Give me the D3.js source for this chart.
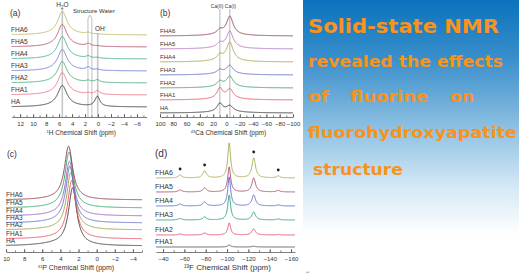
<!DOCTYPE html>
<meta charset="utf-8">
<style>
body { margin: 0; background: #fff; }
svg { display: block; font-family: "Liberation Sans", Arial, sans-serif; }
.axis path, .axis line { stroke: #444; stroke-width: 0.7; }
.axis text { font-size: 6px; fill: #333; font-family: "Liberation Sans", Arial, sans-serif; }
.lab { font-size: 6.5px; fill: #333; }
.guide { stroke: #c6c6c6; stroke-width: 1.6; fill: none; }
.title { font-family: "DejaVu Sans", Verdana, sans-serif; font-weight: bold; fill: #f7931e; }
</style>
<svg width="519" height="278"></svg>
<script src="https://cdn.jsdelivr.net/npm/d3@7"></script>
<script>

var samples = ["HA", "FHA1", "FHA2", "FHA3", "FHA4", "FHA5", "FHA6"];

// (a) 1H spectra: baseline offset and peak heights (H2O, structure water, OH-)
var hTicks = [12, 10, 8, 6, 4, 2, 0, -2, -4, -6];
var hOffset = [10, 22, 34, 46, 58, 70, 82];
var hWater = [20, 21, 20, 20, 21, 21, 22];
var hStruct = [0, 1, 1.5, 3, 2, 2.5, 1.5];
var hOH = [10, 3.5, 2.5, 1, 0.8, 0.5, 0.3];
var hColors = ["#333333", "#e8707e", "#3fa878", "#6677cc", "#3aa890", "#b04a6a", "#b8b860"];

// (b) 43Ca spectra: Ca(I) at -5 ppm, Ca(II) at 10 ppm
var caTicks = [100, 80, 60, 40, 20, 0, -20, -40, -60, -80, -100];
var caOffset = [4, 17, 29, 42, 55, 68, 81];
var caI = [5.5, 9, 10, 8, 18, 16, 18];
var caII = [8, 10, 5, 3.5, 5, 4, 4];
var caColors = ["#333333", "#e05060", "#3a9a6a", "#5a6ac0", "#a8a040", "#b070c0", "#8a3a55"];

// (c) 31P spectra: peak position and height
var pTicks = [10, 8, 6, 4, 2, 0, -2, -4];
var pOffset = [6, 13, 22, 29, 36, 44, 52];
var pPos = [2.65, 2.75, 2.85, 2.95, 3.0, 3.05, 3.1];
var pHeight = [57, 58, 57, 56, 54, 55, 53];
var pColors = ["#333333", "#e8485a", "#9a9a3a", "#5a6ac8", "#9a5ab8", "#2aa060", "#8a3545"];

// (d) 19F spectra (no HA): centre band at -102 ppm and spinning sidebands
var fSamples = ["FHA1", "FHA2", "FHA3", "FHA4", "FHA5", "FHA6"];
var fTicks = [-40, -60, -80, -100, -120, -140, -160];
var fOffset = [5, 17, 32, 46, 60, 74];
var fBands = [-56, -79, -102, -125, -148];
var fHeights = [
  [0, 0, 2, 0.8, 0],
  [1, 2, 12, 6, 0.5],
  [1.5, 3, 25, 8, 1],
  [2, 4, 29, 11, 1],
  [2, 4, 25, 14, 1.5],
  [3, 7, 35, 20, 2]
];
var fColors = ["#555555", "#e0506a", "#2aa070", "#5a6ac8", "#a84a6a", "#a8a850"];

var svg = d3.select("svg");

function lorentz(x, p) {
  var d = x - p.c;
  return p.h * p.w * p.w / (p.w * p.w + d * d);
}

function spectrum(g, x, y, offset, peaks, color) {
  var dom = x.domain(), n = 700, pts = [];
  for (var i = 0; i <= n; i++) {
    var v = dom[0] + (dom[1] - dom[0]) * i / n;
    var s = offset;
    peaks.forEach(function(p) { s += lorentz(v, p); });
    pts.push([v, s]);
  }
  g.append("path")
    .attr("d", d3.line().x(function(d) { return x(d[0]); }).y(function(d) { return y(d[1]); })(pts))
    .attr("fill", "none")
    .attr("stroke", color)
    .attr("stroke-width", 0.9);
}

function axis(g, x, axisY, ticks, minorStep, title, titleSize) {
  var dom = x.domain(), lo = Math.min(dom[0], dom[1]), hi = Math.max(dom[0], dom[1]);
  var minor = [];
  for (var v = Math.ceil(lo / minorStep) * minorStep; v <= hi; v += minorStep) minor.push(v);
  g.append("g").attr("class", "axis").attr("transform", "translate(0," + axisY + ")")
    .call(d3.axisBottom(x).tickValues(minor).tickSize(-1.6).tickFormat(""))
    .select(".domain").remove();
  g.append("g").attr("class", "axis").attr("transform", "translate(0," + axisY + ")")
    .call(d3.axisBottom(x).tickValues(ticks).tickSizeInner(-3).tickSizeOuter(0).tickPadding(5));
  var r = x.range();
  g.append("text").attr("x", (r[0] + r[1]) / 2 + 2).attr("y", axisY + 18)
    .attr("text-anchor", "middle").style("font-size", titleSize + "px").style("fill", "#333")
    .html(title);
}

// ---------- (a) ----------
var ga = svg.append("g");
var xa = d3.scaleLinear().domain([13.3, -7.5]).range([11.7, 146.7]);
var ya = d3.scaleLinear().domain([0, 110]).range([117, 7]);
ga.append("line").attr("class", "guide").attr("x1", xa(5.5)).attr("x2", xa(5.5)).attr("y1", 9).attr("y2", 117);
ga.append("path").attr("class", "guide").style("stroke-width", 1.1)
  .attr("d", "M" + xa(1.55) + ",117V19Q" + xa(1.25) + ",12 " + xa(0.95) + ",19V117");
ga.append("line").attr("class", "guide").attr("x1", xa(0.05)).attr("x2", xa(0.05)).attr("y1", 33).attr("y2", 117);
samples.forEach(function(s, i) {
  spectrum(ga, xa, ya, hOffset[i], [
    {c: 5.5, w: 0.85, h: hWater[i]},
    {c: 5.5, w: 3, h: 1.5},
    {c: 1.5, w: 0.4, h: hStruct[i]},
    {c: 0.1, w: 0.45, h: hOH[i]}
  ], hColors[i]);
  ga.append("text").attr("class", "lab").attr("x", 11).attr("y", ya(hOffset[i]) - 3).text(s);
});
axis(ga, xa, 117, hTicks, 1, "<tspan baseline-shift='super' font-size='4px'>1</tspan>H Chemical Shift (ppm)", 6.5);
ga.append("text").attr("x", 10).attr("y", 16).style("font-size", "8.5px").style("fill", "#333").text("(a)");
ga.append("text").attr("x", xa(5.5)).attr("y", 7).attr("text-anchor", "middle").style("font-size", "6.5px").style("fill", "#333")
  .html("H<tspan font-size='4.5px' dy='1.5'>2</tspan><tspan dy='-1.5'>O</tspan>");
ga.append("text").attr("x", 94).attr("y", 12.5).attr("text-anchor", "middle").style("font-size", "6px").style("fill", "#333").text("Structure Water");
ga.append("text").attr("x", 100.5).attr("y", 31).attr("text-anchor", "middle").style("font-size", "6.5px").style("fill", "#333")
  .html("OH<tspan font-size='4.5px' dy='-2.5'>-</tspan>");

// ---------- (b) ----------
var gb = svg.append("g");
var xb = d3.scaleLinear().domain([100, -100]).range([160, 293]);
var yb = d3.scaleLinear().domain([0, 110]).range([117, 7]);
[10, -5].forEach(function(v) {
  gb.append("line").attr("class", "guide").style("stroke-width", 1.3).attr("x1", xb(v)).attr("x2", xb(v)).attr("y1", 9).attr("y2", 117);
});
samples.forEach(function(s, i) {
  spectrum(gb, xb, yb, caOffset[i], [
    {c: -5, w: 6, h: caI[i]},
    {c: 10, w: 5, h: caII[i]},
    {c: 2, w: 28, h: 1.6}
  ], caColors[i]);
  gb.append("text").attr("class", "lab").style("font-size", "6px").attr("x", 160).attr("y", yb(caOffset[i]) - 3.5).text(s);
});
axis(gb, xb, 117, caTicks, 10, "<tspan baseline-shift='super' font-size='4px'>43</tspan>Ca Chemical Shift  (ppm)", 6.5);
gb.append("text").attr("x", 160).attr("y", 16).style("font-size", "8.5px").style("fill", "#333").text("(b)");
gb.append("text").attr("x", xb(10) + 3.5).attr("y", 7.5).attr("text-anchor", "end").style("font-size", "5px").style("fill", "#333").text("Ca(II)");
gb.append("text").attr("x", xb(10) + 5).attr("y", 7.5).attr("text-anchor", "start").style("font-size", "5px").style("fill", "#333").text("Ca(I)");

// ---------- (c) ----------
var gc = svg.append("g");
var xc = d3.scaleLinear().domain([10, -5]).range([6, 142]);
var yc = d3.scaleLinear().domain([0, 110]).range([252, 142]);
samples.forEach(function(s, i) {
  spectrum(gc, xc, yc, pOffset[i], [
    {c: pPos[i], w: 0.55, h: pHeight[i]},
    {c: 4.5, w: 2.5, h: i === 0 ? 2 : 1}
  ], pColors[i]);
  gc.append("text").attr("class", "lab").attr("x", 6).attr("y", yc(pOffset[i]) - 3).text(s);
});
axis(gc, xc, 252, pTicks, 1, "<tspan baseline-shift='super' font-size='4px'>31</tspan>P Chemical Shift (ppm)", 7);
gc.append("text").attr("x", 7).attr("y", 157).style("font-size", "8.5px").style("fill", "#333").text("(c)");

// ---------- (d) ----------
var gd = svg.append("g");
var xd = d3.scaleLinear().domain([-33.4, -163.7]).range([156, 295]);
var yd = d3.scaleLinear().domain([0, 110]).range([252, 142]);
fSamples.forEach(function(s, i) {
  var peaks = fBands.map(function(c, k) { return {c: c, w: k === 2 ? 1.6 : 2, h: fHeights[i][k]}; });
  spectrum(gd, xd, yd, fOffset[i], peaks, fColors[i]);
  gd.append("text").attr("class", "lab").style("font-size", "7px").attr("x", 155).attr("y", yd(fOffset[i]) - 3).text(s);
});
[0, 1, 3, 4].forEach(function(k) {
  gd.append("circle").attr("cx", xd(fBands[k])).attr("cy", yd(fOffset[5] + fHeights[5][k]) - 6).attr("r", 1.4).attr("fill", "#222");
});
axis(gd, xd, 252, fTicks, 10, "<tspan baseline-shift='super' font-size='4.5px'>19</tspan>F Chemical Shift (ppm)", 8);
gd.append("text").attr("x", 155).attr("y", 157).style("font-size", "10px").style("fill", "#333").text("(d)");
gd.append("text").attr("x", 306).attr("y", 274).style("font-size", "5px").style("fill", "#999").text("\u21B5");

// ---------- text panel ----------
var grad = svg.append("defs").append("linearGradient").attr("id", "bg")
  .attr("x1", 0).attr("y1", 0).attr("x2", 0).attr("y2", 1);
[[0, "#0a72bc"], [0.25, "#3a8fcb"], [0.55, "#8fc1e3"], [0.8, "#d6e9f6"], [1, "#ffffff"]].forEach(function(s) {
  grad.append("stop").attr("offset", s[0]).attr("stop-color", s[1]);
});
svg.append("rect").attr("x", 303).attr("y", 0).attr("width", 216).attr("height", 235).attr("fill", "url(#bg)");

var words = [
  {t: "Solid-state NMR", x: 308, y: 33, s: 19, w: 191},
  {t: "revealed the effects", x: 308, y: 67, s: 16, w: 195},
  {t: "of", x: 308, y: 102, s: 16, w: 21},
  {t: "fluorine", x: 350, y: 102, s: 16, w: 78},
  {t: "on", x: 450, y: 102, s: 16, w: 24},
  {t: "fluorohydroxyapatite", x: 308, y: 138, s: 16, w: 209},
  {t: "structure", x: 313, y: 175, s: 16, w: 90}
];
words.forEach(function(d) {
  svg.append("text").attr("class", "title").attr("x", d.x).attr("y", d.y)
    .style("font-size", d.s + "px").attr("textLength", d.w).attr("lengthAdjust", "spacingAndGlyphs").text(d.t);
});

</script>
